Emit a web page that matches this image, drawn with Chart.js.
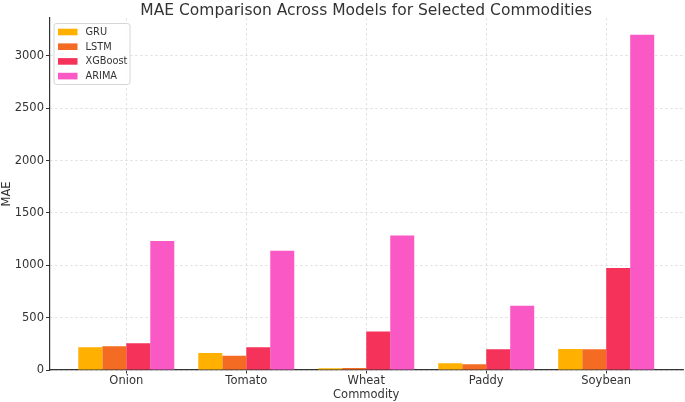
<!DOCTYPE html>
<html>
<head>
<meta charset="utf-8">
<script src="https://cdn.jsdelivr.net/npm/chart.js@4"></script>
<style>
    html, body { margin: 0; padding: 0; background: #fff; }
    #wrap { width: 685px; height: 402px; }
</style>
</head>
<body>
<div id="wrap"><canvas id="chart" width="685" height="402"></canvas></div>
<script>
const categories = ["Onion", "Tomato", "Wheat", "Paddy", "Soybean"];
const models = ["GRU", "LSTM", "XGBoost", "ARIMA"];
const gruMae = [218, 163, 16, 64, 201];
const lstmMae = [227, 137, 18, 55, 199];
const xgboostMae = [256, 218, 367, 198, 975];
const arimaMae = [1233, 1138, 1284, 613, 3201];
const yTicks = [0, 500, 1000, 1500, 2000, 2500, 3000];
const colors = ["#ffb000", "#f46b23", "#f5325a", "#f958c5"];

const FONT = "'DejaVu Sans', sans-serif";
const TEXT = "#333333";

const series = [gruMae, lstmMae, xgboostMae, arimaMae];

function toPoints(values) {
    return values.map((v, i) => ({ x: i, y: v }));
}

const overlay = {
    id: "overlay",
    afterDraw(chart) {
        const ctx = chart.ctx;
        const area = chart.chartArea;
        ctx.save();

        // title
        ctx.fillStyle = TEXT;
        ctx.font = "15.5px " + FONT;
        ctx.textAlign = "center";
        ctx.textBaseline = "alphabetic";
        ctx.fillText("MAE Comparison Across Models for Selected Commodities", (area.left + area.right) / 2, 15);

        // legend box
        const bx = area.left + 4.5, by = area.top + 5.5, bw = 76, bh = 61;
        ctx.fillStyle = "rgba(255,255,255,0.85)";
        ctx.strokeStyle = "#d6d6d6";
        ctx.lineWidth = 1;
        ctx.beginPath();
        ctx.roundRect(bx, by, bw, bh, 2.5);
        ctx.fill();
        ctx.stroke();

        ctx.font = "9.8px " + FONT;
        ctx.textAlign = "left";
        ctx.textBaseline = "middle";
        chart.data.datasets.forEach((ds, i) => {
            const cy = by + 8.5 + i * 14.7;
            ctx.fillStyle = ds.backgroundColor;
            ctx.fillRect(bx + 4, cy - 3.3, 19.5, 6.6);
            ctx.fillStyle = TEXT;
            ctx.fillText(ds.label, bx + 31.5, cy + 0.5);
        });
        ctx.restore();
    }
};

new Chart(document.getElementById("chart"), {
    type: "bar",
    data: {
        datasets: models.map((m, i) => ({
            label: m,
            data: toPoints(series[i]),
            backgroundColor: colors[i],
            borderWidth: 0,
            categoryPercentage: 0.8,
            barPercentage: 1.0
        }))
    },
    options: {
        responsive: false,
        animation: false,
        layout: { padding: { top: 18, right: 2, left: 0, bottom: 0 } },
        plugins: {
            legend: { display: false },
            title: { display: false },
            tooltip: { enabled: false }
        },
        scales: {
            x: {
                type: "linear",
                min: -0.64,
                max: 4.64,
                offset: false,
                afterBuildTicks: scale => {
                    scale.ticks = categories.map((c, i) => ({ value: i }));
                },
                afterFit: scale => { scale.height = 32; },
                ticks: {
                    callback: v => categories[v],
                    color: TEXT,
                    font: { family: FONT, size: 11.5 },
                    padding: 1,
                    maxRotation: 0,
                    autoSkip: false
                },
                grid: {
                    offset: false,
                    color: "#d9d9d9",
                    lineWidth: 0.8,
                    tickColor: "#333",
                    tickLength: 3.5,
                    tickWidth: 1,
                    tickBorderDash: []
                },
                border: { display: true, color: "#333", width: 1.2, dash: [2.5, 2.5] },
                title: {
                    display: true,
                    text: "Commodity",
                    color: TEXT,
                    font: { family: FONT, size: 11.5 },
                    padding: { top: 0, bottom: 0 }
                }
            },
            y: {
                min: 0,
                max: 3362,
                afterBuildTicks: scale => {
                    scale.ticks = yTicks.map(v => ({ value: v }));
                },
                afterFit: scale => { scale.width = 49.5; },
                ticks: {
                    callback: v => String(v),
                    color: TEXT,
                    font: { family: FONT, size: 11.5 },
                    padding: 2
                },
                grid: {
                    color: "#d9d9d9",
                    lineWidth: 0.8,
                    tickColor: "#333",
                    tickLength: 3.5,
                    tickWidth: 1,
                    tickBorderDash: []
                },
                border: { display: true, color: "#333", width: 1.2, dash: [2.5, 2.5] },
                title: {
                    display: true,
                    text: "MAE",
                    color: TEXT,
                    font: { family: FONT, size: 11.5 },
                    padding: { top: 0, bottom: 2 }
                }
            }
        }
    },
    plugins: [overlay]
});
</script>
</body>
</html>
